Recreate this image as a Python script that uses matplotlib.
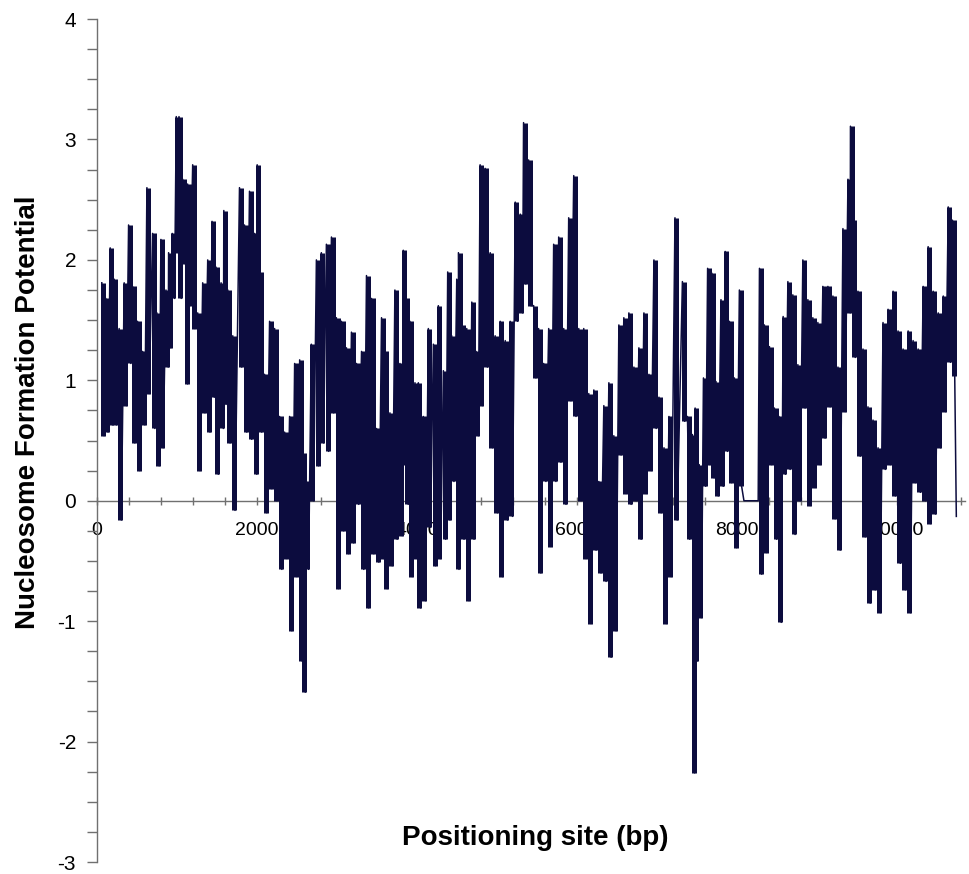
import numpy as np
import matplotlib.pyplot as plt
from matplotlib.ticker import MultipleLocator

plt.rcParams['font.family'] = ['Liberation Sans', 'DejaVu Sans']
plt.rcParams['axes.unicode_minus'] = False

# positions (bp) of read-off windows with the max / min value seen in each
pos = [75, 125, 180, 230, 292, 355, 410, 460, 522, 585, 639, 710, 764, 814, 877, 910,
       956, 1006, 1040, 1086, 1120, 1148, 1211, 1274, 1336, 1399, 1453, 1503, 1566, 1600,
       1650, 1712, 1796, 1859, 1921, 1984, 2017, 2046, 2109, 2172, 2235, 2297, 2360, 2422,
       2485, 2548, 2590, 2631, 2694, 2757, 2819, 2882, 2945, 3007, 3070, 3133, 3195, 3258,
       3321, 3383, 3446, 3509, 3571, 3613, 3676, 3738, 3801, 3843, 3876, 3926, 3989, 4031,
       4093, 4156, 4219, 4281, 4344, 4398, 4448, 4511, 4532, 4574, 4636, 4699, 4753, 4803,
       4866, 4929, 4991, 5054, 5117, 5179, 5242, 5305, 5346, 5409, 5472, 5534, 5597, 5660,
       5722, 5785, 5848, 5910, 5973, 6036, 6098, 6161, 6224, 6286, 6349, 6412, 6474, 6537,
       6599, 6662, 6725, 6787, 6850, 6913, 6975, 7038, 7101, 7163, 7238, 7331, 7394, 7456,
       7490, 7541, 7594, 7646, 7699, 7751, 7813, 7866, 7918, 7981, 8043, 8100, 8150, 8200,
       8250, 8294, 8356, 8419, 8481, 8538, 8590, 8649, 8711, 8774, 8836, 8899, 8961, 9024,
       9086, 9149, 9212, 9275, 9337, 9400, 9431, 9463, 9525, 9588, 9650, 9713, 9776, 9838,
       9901, 9964, 10026, 10089, 10152, 10214, 10277, 10340, 10402, 10465, 10528, 10591,
       10653, 10706]

hi = [1.81, 1.68, 2.10, 1.84, 1.43, 1.81, 2.29, 1.78, 1.49, 1.24, 2.60, 2.22, 1.56, 2.17, 1.75, 2.06,
      2.22, 3.19, 3.19, 2.67, 2.20, 2.63, 2.79, 1.56, 1.81, 2.00, 2.32, 1.94, 1.81, 2.41,
      1.75, 1.37, 2.60, 2.29, 2.57, 2.22, 2.79, 1.90, 1.05, 1.49, 1.43, 0.70, 0.57, 0.70,
      1.14, 1.17, 0.40, 0.16, 1.30, 2.00, 2.06, 2.13, 2.19, 1.52, 1.49, 1.27, 1.40, 1.14,
      1.24, 1.87, 1.68, 0.60, 1.52, 1.24, 0.73, 1.75, 1.14, 2.08, 1.68, 1.49, 0.98, 0.98,
      0.70, 1.43, 1.30, 1.62, 1.08, 1.90, 1.37, 1.84, 2.06, 1.46, 1.43, 1.65, 1.24, 2.79,
      2.76, 2.06, 1.37, 1.49, 1.33, 1.49, 2.48, 2.38, 3.14, 2.83, 1.62, 1.43, 1.14, 1.43,
      2.13, 2.19, 1.43, 2.35, 2.70, 1.43, 1.43, 0.89, 0.92, 0.16, 0.79, 0.98, 0.54, 1.46,
      1.52, 1.56, 1.11, 1.27, 1.56, 1.05, 2.00, 0.86, 0.44, 0.70, 2.35, 1.82, 0.70, 0.55,
      0.77, 0.30, 1.02, 1.93, 1.89, 0.99, 1.67, 2.07, 1.49, 1.02, 1.75, 0.00, 0.00, 0.00,
      0.00, 1.93, 1.46, 1.28, 0.77, 0.70, 1.53, 1.82, 1.71, 1.13, 2.00, 1.67, 1.52, 1.48,
      1.78, 1.78, 1.70, 1.11, 2.26, 2.67, 3.11, 2.33, 1.74, 1.26, 0.78, 0.67, 0.44, 1.48,
      1.59, 1.74, 1.41, 1.26, 1.41, 1.33, 1.26, 1.78, 2.11, 1.74, 1.56, 1.70,
      2.44, 2.33]

lo = [0.54, 0.57, 0.63, 0.63, -0.16, 0.79, 1.14, 0.48, 0.25, 0.63, 0.89, 0.60, 0.29, 0.44, 1.11, 1.27,
      1.68, 2.06, 1.68, 1.97, 0.97, 1.62, 1.43, 0.25, 0.73, 0.57, 0.86, 0.22, 0.60, 0.80,
      0.48, -0.08, 1.11, 0.57, 0.51, 0.22, 0.80, 0.57, -0.10, 0.10, 0.00, -0.57, -0.48, -1.08,
      -0.63, -1.33, -1.59, -0.57, 0.00, 0.29, 0.48, 0.41, 0.73, -0.73, -0.25, -0.44, -0.35, -0.03,
      -0.57, -0.89, -0.44, -0.51, -0.48, -0.73, -0.54, -0.32, -0.29, 0.30, -0.03, -0.63, -0.48, -0.89,
      -0.83, -0.22, -0.54, -0.48, -0.32, -0.16, 0.16, -0.57, 0.20, -0.32, -0.83, -0.32, 0.54, 0.79,
      1.11, 0.44, -0.10, -0.63, -0.16, -0.13, 1.49, 1.56, 1.80, 1.62, 1.02, -0.60, 0.16, -0.38,
      0.16, 0.32, -0.03, 0.83, 0.70, 0.00, -0.48, -1.02, -0.41, -0.60, -0.67, -1.30, -1.08, 0.38,
      0.06, -0.03, 0.00, -0.32, 0.06, 0.25, 0.60, -0.10, -1.02, -0.63, -0.16, 0.66, -0.32, -2.26,
      -1.33, -0.97, 0.12, 0.30, 0.19, 0.04, 0.12, 0.41, 0.15, -0.39, 0.12, 0.00, 0.00, 0.00,
      0.00, -0.61, -0.43, 0.30, -0.32, -1.01, 0.22, 0.26, -0.28, 0.00, 0.77, -0.04, 0.11, 0.30,
      0.52, 0.78, -0.15, -0.41, 0.74, 1.56, 1.80, 1.19, 0.37, -0.30, -0.85, -0.74, -0.93, 0.26,
      0.30, 0.04, -0.52, -0.74, -0.93, 0.15, 0.07, 0.00, -0.19, -0.11, 0.44, 0.74,
      1.15, 1.04]

end_pos = 10740
end_value = -0.13

line_color = '#0c0c3e'

# each window drawn as a rise to its max and a drop to its min, like the dense trace
xs, ys = [], []
for p, h, l in zip(pos, hi, lo):
    xs += [p - 14, p + 14]
    ys += [h, l]
xs.append(end_pos)
ys.append(end_value)

fig = plt.figure(figsize=(9.69, 8.74), dpi=100)
ax = fig.add_axes([0.100, 0.0137, 0.896, 0.9645])

# solid band for each window (the densely packed samples) plus the connecting trace
ax.vlines(pos, lo, hi, color=line_color, linewidth=3.6, zorder=3)
ax.plot(xs, ys, color=line_color, linewidth=1.1, zorder=3)

ax.set_xlim(0, 10850)
ax.set_ylim(-3, 4)

ax.spines['top'].set_visible(False)
ax.spines['right'].set_visible(False)
ax.spines['bottom'].set_position(('data', 0))
for s in ['left', 'bottom']:
    ax.spines[s].set_color('#707070')
    ax.spines[s].set_linewidth(1.0)

ax.xaxis.set_major_locator(MultipleLocator(2000))
ax.xaxis.set_minor_locator(MultipleLocator(400))
ax.yaxis.set_major_locator(MultipleLocator(1))
ax.yaxis.set_minor_locator(MultipleLocator(0.25))

ax.tick_params(axis='y', which='both', direction='out', length=7, width=1, color='#707070',
               labelsize=15, pad=8)
ax.tick_params(axis='x', which='both', direction='inout', length=6, width=1, color='#707070',
               labelsize=14, pad=12)
ax.set_axisbelow(True)

fig.text(535 / 969, 1 - 838 / 874, 'Positioning site (bp)', ha='center', va='center',
         fontsize=20, fontweight='bold')
fig.text(28 / 969, 1 - 412 / 874, 'Nucleosome Formation Potential', ha='center', va='center',
         rotation=90, fontsize=20, fontweight='bold')

plt.savefig('out.png', dpi=100)
